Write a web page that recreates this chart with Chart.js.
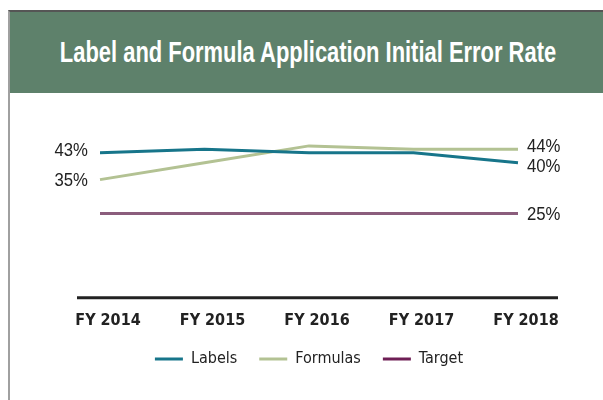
<!DOCTYPE html>
<html lang="en">
<head>
    <title>Error Rate</title>
    <meta charset="utf-8">
    <script src="https://cdnjs.cloudflare.com/ajax/libs/Chart.js/4.4.1/chart.umd.min.js"></script>
    <style>
        body { margin: 0; background: #fff; width: 603px; height: 400px; overflow: hidden; }
        .frame { position: absolute; left: 8px; top: 10px; width: 595px; height: 390px;
                 border-top: 2px solid #555; border-left: 2px solid #a0a0a0; }
        .header { position: relative; height: 81px; background: #5e816b; color: #fff; overflow: hidden; }
        #title { position: absolute; left: 50%; top: 0; white-space: nowrap; line-height: 81px;
                 font: bold 29px/81px "Liberation Sans", Arial, sans-serif; transform-origin: center; }
        .chart-box { position: absolute; left: 0; top: 81px; width: 593px; height: 307px; }
    </style>
</head>
<body>
<div class="frame">
    <div class="header"><span id="title">Label and Formula Application Initial Error Rate</span></div>
    <div class="chart-box"><canvas id="rate"></canvas></div>
</div>
<script>
    const years = ['FY 2014', 'FY 2015', 'FY 2016', 'FY 2017', 'FY 2018'];
    const labelsRate = [43, 44, 43, 43, 40];
    const formulasRate = [35, 40, 45, 44, 44];
    const targetRate = [25, 25, 25, 25, 25];

    // squeeze the title to a condensed look
    const title = document.getElementById('title');
    title.style.transform = 'translateX(-50%) scaleX(' + (496 / title.offsetWidth) + ')';

    const font = '"DejaVu Sans Condensed", "DejaVu Sans", sans-serif';

    // end labels: dataset, point, side, small vertical nudge
    const endLabels = [
        { ds: 0, i: 0, side: 'left', dy: -3 },
        { ds: 1, i: 0, side: 'left', dy: 0 },
        { ds: 1, i: 4, side: 'right', dy: -4 },
        { ds: 0, i: 4, side: 'right', dy: 3 },
        { ds: 2, i: 4, side: 'right', dy: 0 }
    ];

    const valueLabels = {
        id: 'valueLabels',
        afterDatasetsDraw(chart) {
            const ctx = chart.ctx;
            const sx = 0.93;
            ctx.save();
            ctx.font = '18px "Liberation Sans", Arial, sans-serif';
            ctx.fillStyle = '#222';
            ctx.textBaseline = 'alphabetic';
            endLabels.forEach(l => {
                const pt = chart.getDatasetMeta(l.ds).data[l.i];
                const txt = chart.data.datasets[l.ds].data[l.i] + '%';
                const w = ctx.measureText(txt).width * sx;
                const x = l.side === 'left' ? pt.x - 12 - w : pt.x + 9;
                ctx.save();
                ctx.translate(x, pt.y + l.dy + 6.5);
                ctx.scale(sx, 1);
                ctx.fillText(txt, 0, 0);
                ctx.restore();
            });
            ctx.restore();
        }
    };

    const baseLine = {
        id: 'baseLine',
        beforeDatasetsDraw(chart) {
            const ctx = chart.ctx;
            const y = chart.scales.y.getPixelForValue(0);
            ctx.save();
            ctx.strokeStyle = '#222';
            ctx.lineWidth = 3;
            ctx.beginPath();
            ctx.moveTo(chart.chartArea.left - 23, y);
            ctx.lineTo(chart.chartArea.right + 40, y);
            ctx.stroke();
            ctx.restore();
        }
    };

    // pull the legend a little closer to the axis labels
    const legendNudge = {
        id: 'legendNudge',
        afterLayout(chart) {
            chart.legend.top -= 14;
            chart.legend.bottom -= 14;
        }
    };

    const legendColors = ['#17758a', '#b3c293', '#6e1e55'];

    new Chart(document.getElementById('rate').getContext('2d'), {
        type: 'line',
        data: {
            labels: years,
            datasets: [
                { label: 'Labels', data: labelsRate, borderColor: '#17758a', backgroundColor: '#17758a' },
                { label: 'Formulas', data: formulasRate, borderColor: '#b3c293', backgroundColor: '#b3c293' },
                { label: 'Target', data: targetRate, borderColor: '#8b5d7c', backgroundColor: '#8b5d7c' }
            ]
        },
        options: {
            responsive: true,
            maintainAspectRatio: false,
            animation: false,
            elements: {
                line: { borderWidth: 3, tension: 0 },
                point: { radius: 0 }
            },
            layout: { padding: { left: 90, right: 85, top: 36, bottom: 9 } },
            scales: {
                x: {
                    offset: false,
                    grid: { display: false, drawTicks: false },
                    border: { display: false },
                    ticks: { color: '#222', font: { family: font, size: 16, weight: 'bold' },
                             padding: 13, labelOffset: 8 }
                },
                y: { display: false, min: 0, max: 50 }
            },
            plugins: {
                tooltip: { enabled: false },
                legend: {
                    position: 'bottom',
                    labels: {
                        color: '#222',
                        font: { family: font, size: 16 },
                        boxWidth: 28,
                        boxHeight: 3,
                        padding: 22,
                        generateLabels(chart) {
                            return chart.data.datasets.map((d, i) => ({
                                text: d.label,
                                fillStyle: legendColors[i],
                                strokeStyle: legendColors[i],
                                lineWidth: 0,
                                fontColor: '#222',
                                datasetIndex: i
                            }));
                        }
                    }
                }
            }
        },
        plugins: [valueLabels, baseLine, legendNudge]
    });
</script>
</body>
</html>
